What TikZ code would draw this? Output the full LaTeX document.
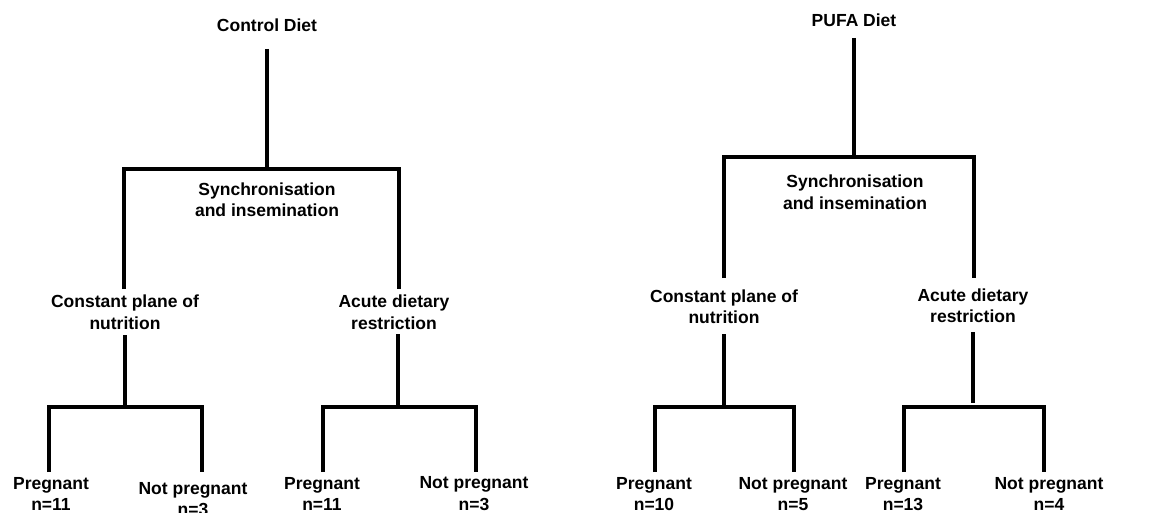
\documentclass[tikz,border=0pt]{standalone}
\usepackage{fontspec}
\setmainfont{Liberation Sans}
\begin{document}
\begin{tikzpicture}[x=1pt,y=-1pt,
  lbl/.style={inner sep=0pt,align=center,font=\fontsize{17.5}{21.5}\selectfont\bfseries},
  ln/.style={line width=3.2pt,black,line join=miter}]
\useasboundingbox[fill=white] (0,0) rectangle (1151,513);
% ---------- Control diet ----------
\node[lbl] (cd) at (267,25) {Control Diet};
\node[lbl] (syn1) at (267,199.5) {Synchronisation\\and insemination};
\node[lbl] (con1) at (125,312) {Constant plane of\\nutrition};
\node[lbl] (acu1) at (394,312) {Acute dietary\\restriction};
\node[lbl] (p1) at (51,494) {Pregnant\\n=11};
\node[lbl] (np1) at (193,499) {Not pregnant\\n=3};
\node[lbl] (p2) at (322,494) {Pregnant\\n=11};
\node[lbl] (np2) at (474,493.5) {Not pregnant\\n=3};
% ---------- PUFA diet ----------
\node[lbl] (pd) at (854,20) {PUFA Diet};
\node[lbl] (syn2) at (855,192) {Synchronisation\\and insemination};
\node[lbl] (con2) at (724,306.5) {Constant plane of\\nutrition};
\node[lbl] (acu2) at (973,305.5) {Acute dietary\\restriction};
\node[lbl] (p3) at (654,494) {Pregnant\\n=10};
\node[lbl] (np3) at (793,494) {Not pregnant\\n=5};
\node[lbl] (p4) at (903,494) {Pregnant\\n=13};
\node[lbl] (np4) at (1049,494) {Not pregnant\\n=4};
% ---------- coordinates ----------
\coordinate (cdT) at (267,49);  \coordinate (cdB) at (267,169);
\coordinate (con1T) at (124,289); \coordinate (acu1T) at (399,289);
\coordinate (con1B) at (125,335); \coordinate (con1J) at (125,407);
\coordinate (p1T) at (49,472); \coordinate (np1T) at (202,472);
\coordinate (acu1B) at (398,334); \coordinate (acu1J) at (398,407);
\coordinate (p2T) at (323,472); \coordinate (np2T) at (476,472);
\coordinate (pdT) at (854,38);  \coordinate (pdB) at (854,157);
\coordinate (con2T) at (724,278); \coordinate (acu2T) at (974,278);
\coordinate (con2B) at (724,334); \coordinate (con2J) at (724,407);
\coordinate (p3T) at (655,472); \coordinate (np3T) at (794,472);
\coordinate (acu2B) at (973,332); \coordinate (acu2J) at (973,403);
\coordinate (p4T) at (904,472); \coordinate (np4T) at (1044,472);
% ---------- connectors ----------
\draw[ln] (cdT) -- (cdB);
\draw[ln] (con1T) |- (cdB) -| (acu1T);
\draw[ln] (con1B) -- (con1J);
\draw[ln] (p1T) |- (con1J) -| (np1T);
\draw[ln] (acu1B) -- (acu1J);
\draw[ln] (p2T) |- (acu1J) -| (np2T);
\draw[ln] (pdT) -- (pdB);
\draw[ln] (con2T) |- (pdB) -| (acu2T);
\draw[ln] (con2B) -- (con2J);
\draw[ln] (p3T) |- (con2J) -| (np3T);
\draw[ln] (acu2B) -- (acu2J);
\draw[ln] (p4T) |- ([yshift=-4pt]acu2J) -| (np4T);
\end{tikzpicture}
\end{document}
